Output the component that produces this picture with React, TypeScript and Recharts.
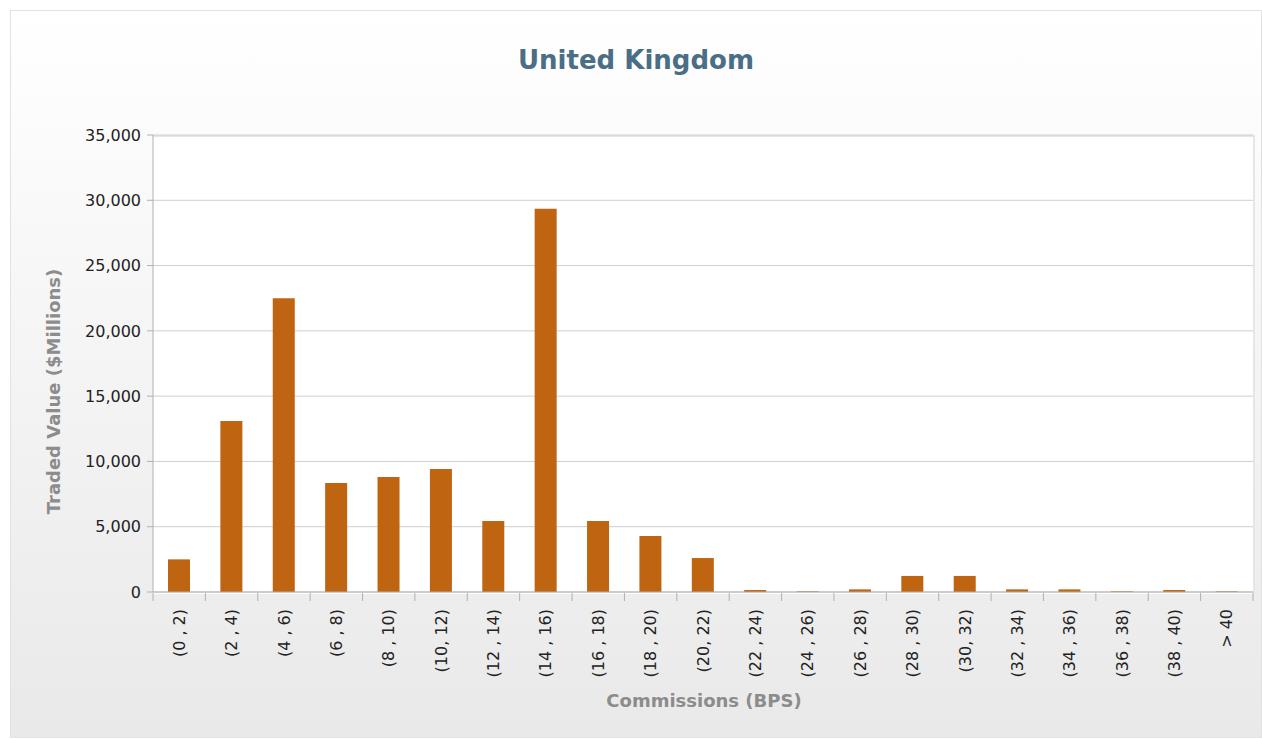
import { BarChart, Bar, XAxis, YAxis, CartesianGrid } from "recharts";

const categories = [
  "(0 , 2)", "(2 , 4)", "(4 , 6)", "(6 , 8)", "(8 , 10)", "(10, 12)", "(12 , 14)",
  "(14 , 16)", "(16 , 18)", "(18 , 20)", "(20, 22)", "(22 , 24)", "(24 , 26)",
  "(26 , 28)", "(28 , 30)", "(30, 32)", "(32 , 34)", "(34 , 36)", "(36 , 38)",
  "(38 , 40)", "> 40",
];
const tradedValue = [
  2500, 13100, 22500, 8350, 8800, 9420, 5440, 29350, 5440, 4290, 2600, 150, 50,
  200, 1230, 1230, 200, 200, 50, 150, 50,
];
const yTicks = [0, 5000, 10000, 15000, 20000, 25000, 30000, 35000];

const data = categories.map((name, i) => ({ name, value: tradedValue[i] }));

const W = 1252;
const H = 728;
const PLOT_L = 143;
const PLOT_T = 125;
const PLOT_W = 1100;
const PLOT_H = 457;
const FONT = "'DejaVu Sans', sans-serif";

const CatTick = (props: any) => {
  const { x, payload, index } = props;
  const half = PLOT_W / categories.length / 2;
  const bottom = PLOT_T + PLOT_H;
  return (
    <g>
      <line x1={x - half} x2={x - half} y1={bottom} y2={bottom + 8} stroke="#b0b0b0" />
      {index === categories.length - 1 && (
        <line x1={x + half} x2={x + half} y1={bottom} y2={bottom + 8} stroke="#b0b0b0" />
      )}
      <text
        x={0}
        y={0}
        transform={`translate(${x},${bottom + 16}) rotate(-90)`}
        textAnchor="end"
        dy="0.35em"
        fontSize={16}
        fontFamily={FONT}
        fill="#222"
      >
        {payload.value}
      </text>
    </g>
  );
};

export default function App() {
  return (
    <div
      style={{
        position: "absolute",
        left: 10,
        top: 10,
        width: W,
        height: H,
        boxSizing: "border-box",
        border: "1px solid #e2e2e2",
        background: "linear-gradient(#ffffff, #e9e9e9)",
        fontFamily: FONT,
      }}
    >
      <div
        style={{
          position: "absolute",
          left: 0,
          width: "100%",
          top: 34,
          textAlign: "center",
          fontSize: 26,
          fontWeight: "bold",
          color: "#4a6e85",
        }}
      >
        United Kingdom
      </div>
      <div
        style={{
          position: "absolute",
          left: PLOT_L - 1,
          top: PLOT_T - 1,
          width: PLOT_W,
          height: PLOT_H,
          background: "#fff",
          borderTop: "2px solid #e6e6e6",
          borderRight: "2px solid #e6e6e6",
        }}
      />
      <div
        style={{
          position: "absolute",
          left: 42 - 200,
          top: 382 - 12,
          width: 400,
          textAlign: "center",
          transform: "rotate(-90deg)",
          fontSize: 18,
          fontWeight: "bold",
          color: "#8c8c8c",
        }}
      >
        Traded Value ($Millions)
      </div>
      <div
        style={{
          position: "absolute",
          left: PLOT_L,
          width: PLOT_W,
          top: 679,
          textAlign: "center",
          fontSize: 18,
          fontWeight: "bold",
          color: "#8c8c8c",
        }}
      >
        Commissions (BPS)
      </div>
      <div style={{ position: "absolute", left: 0, top: 0 }}>
        <BarChart
          width={W - 2}
          height={H - 2}
          data={data}
          margin={{ top: PLOT_T - 1, right: W - 2 - PLOT_L - PLOT_W + 1, left: 0, bottom: 0 }}
          barSize={22}
        >
          <CartesianGrid vertical={false} stroke="#cfcfcf" />
          <XAxis
            dataKey="name"
            interval={0}
            height={H - 2 - PLOT_T - PLOT_H + 1}
            axisLine={{ stroke: "#b0b0b0" }}
            tickLine={false}
            tick={<CatTick />}
          />
          <YAxis
            width={PLOT_L - 1}
            domain={[0, 35000]}
            ticks={yTicks}
            axisLine={{ stroke: "#b0b0b0" }}
            tickLine={{ stroke: "#b0b0b0" }}
            tickSize={6}
            tickMargin={6}
            tick={{ fontSize: 16, fill: "#222", fontFamily: FONT }}
            tickFormatter={(v: number) => v.toLocaleString("en-US")}
          />
          <Bar dataKey="value" fill="#bf6410" isAnimationActive={false} />
        </BarChart>
      </div>
    </div>
  );
}
